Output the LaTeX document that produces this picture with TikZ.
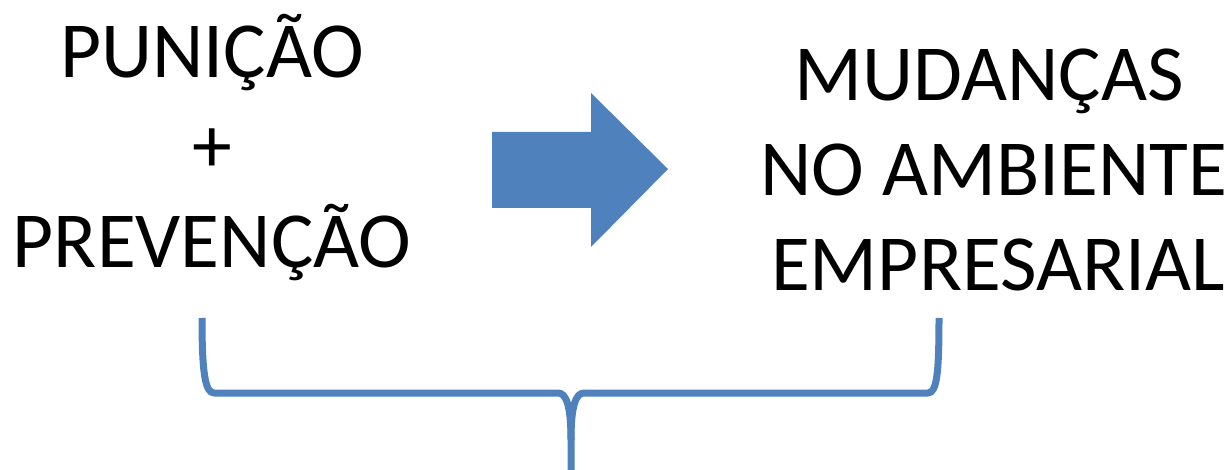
\documentclass[tikz,border=0pt]{standalone}
\usepackage{fontspec}
\setmainfont{Carlito}
\definecolor{officeblue}{HTML}{4F81BD}
\begin{document}
\begin{tikzpicture}[x=1pt,y=-1pt,
  lbl/.style={anchor=base,inner sep=0pt,font=\fontsize{79.5}{95}\selectfont},
  bracepath/.style={draw=officeblue,line width=7pt,line join=round,line cap=butt}]
\useasboundingbox (0,0) rectangle (1232,470);
% left text
\node[lbl] (l1) at (212,78) {PUNIÇÃO};
\node[lbl] (l2) at (212,173) {+};
\node[lbl] (l3) at (212,268) {PREVENÇÃO};
% right text
\node[lbl] (r1) at (989,101) {MUDANÇAS};
\node[lbl] (r2) at (994,196) {NO AMBIENTE};
\node[lbl] (r3) at (998,291) {EMPRESARIAL};
% block arrow
\fill[officeblue] (492,132) -- (591,132) -- (591,93) -- (668,169) -- (591,247) -- (591,208) -- (492,208) -- cycle;
% brace
\draw[bracepath] (202,318) .. controls (202,372) and (205,393) .. (214,393) -- (558,393)
  .. controls (566,393) and (571,405) .. (571,440) -- (571,470);
\draw[bracepath] (571,440) .. controls (571,405) and (576,393) .. (584,393) -- (928,393)
  .. controls (937,393) and (939,372) .. (939,318);
\end{tikzpicture}
\end{document}
